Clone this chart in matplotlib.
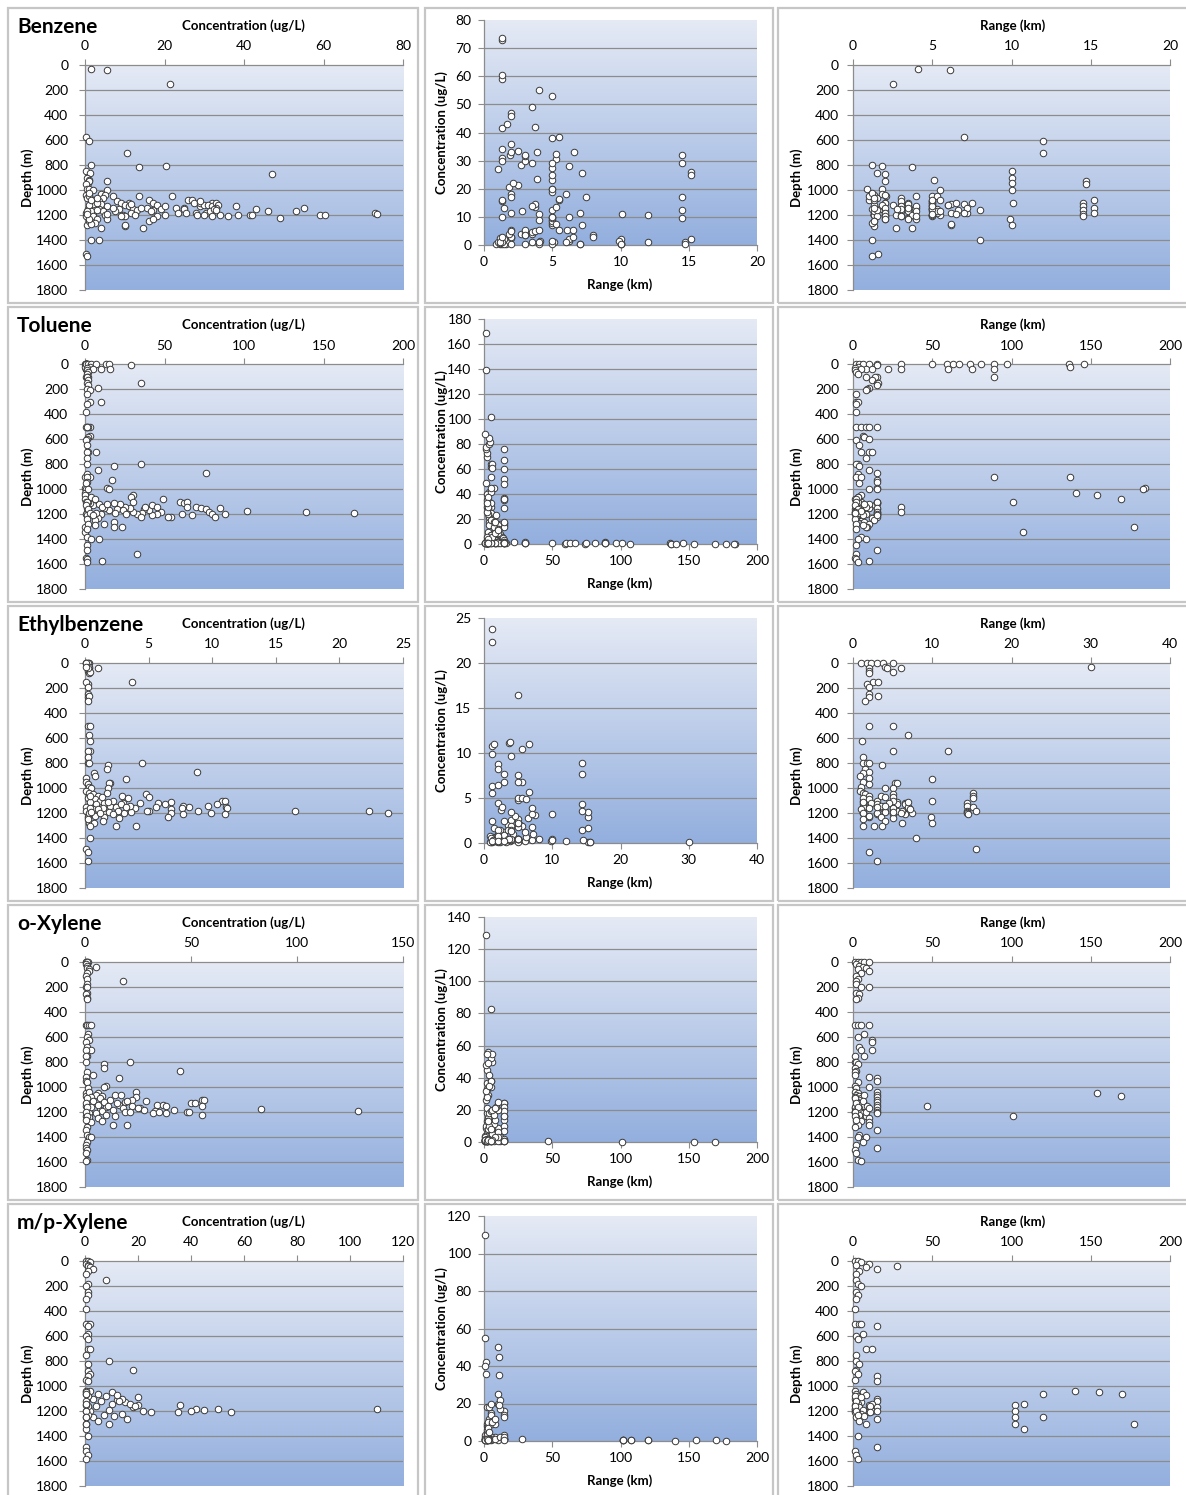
import numpy as np
import matplotlib
matplotlib.use('Agg')
import matplotlib.pyplot as plt
from matplotlib.colors import LinearSegmentedColormap
from matplotlib.patches import Rectangle

plt.rcParams['font.family'] = ['Lato', 'DejaVu Sans']

# ---- data: one sample = (depth, concentration, range), same index in each list ----
benzene_depth = [
    35, 40, 150, 575, 610, 700, 800, 805, 815, 850,
    860, 870, 900, 930, 940, 920, 930, 950, 990, 990,
    1000, 1000, 1100, 1230, 1280, 1400, 1400, 1510, 1530, 1300,
    1290, 1300, 1280, 1100, 1130, 1160, 1190, 1210, 1080, 1140,
    1180, 1200, 1200, 1150, 1170, 1220, 1170, 1140, 1200, 1200,
    1180, 1190, 1130, 1200, 1050, 1140, 1180, 1150, 1180, 1080,
    1100, 1180, 1100, 1200, 1120, 1180, 1120, 1200, 1130, 1170,
    1210, 1100, 1120, 1200, 1210, 1140, 1150, 1160, 1090, 1200,
    1040, 1050, 1060, 1080, 1100, 1120, 1140, 1150, 1170, 1200,
    1210, 1230, 1250, 1260, 1030, 1040, 1060, 1090, 1110, 1130,
    1150, 1170, 1200, 1230, 1050, 1090, 1100, 1120, 1150, 1170,
    1200, 1210, 1130, 1150, 1160, 1180, 1200, 1050, 1080, 1100,
    1120, 1140, 1150, 1170, 1130, 1210, 1250, 1230, 1270, 1110,
    1140, 1160, 1180, 1110, 1190, 1100, 1120, 1170, 1050, 1210,
    1230, 1190, 1080, 1140, 1210, 1020, 1060]
benzene_conc = [
    1.5, 5.5, 21.5, 0.2, 1.0, 10.5, 1.5, 20.5, 13.5, 0.3,
    1.2, 47, 0.5, 5.5, 0.8, 1.0, 1.0, 0.3, 0.5, 1.0,
    2.0, 5.5, 11, 1.5, 0.5, 1.5, 3.5, 0.3, 0.4, 4.0,
    10, 14.5, 10, 32, 29, 17, 12.5, 9.5, 26, 25,
    2, 41.5, 42, 43, 46, 49, 53, 55, 59, 60.5,
    73, 73.5, 38, 38.5, 22, 23, 23.5, 25, 25.5, 27,
    27.5, 28, 29, 28.3, 30, 30.5, 31, 30, 32, 31.5,
    32, 33, 33.5, 34, 36, 33, 32.5, 33, 29, 20,
    0.3, 1.0, 0.5, 2.0, 3.0, 1.5, 2.5, 0.8, 1.5, 0.5,
    2.0, 3.0, 1.0, 2.5, 4.0, 5.0, 4.5, 3.5, 4.0, 5.5,
    3.5, 4.5, 5.0, 5.5, 7.0, 8.0, 9.0, 10, 8.5, 7.5,
    9.5, 10, 11, 12, 13, 11.5, 12.5, 13.5, 16, 17,
    18, 15.5, 19, 16.5, 20, 18, 16, 17, 1.5, 11.5,
    7.0, 3.0, 0.2, 2.0, 5.5, 3.0, 1.0, 0.5, 1.0, 0.3,
    1.0, 0.5, 1.5, 14, 9.0, 1.0, 3.0]
benzene_range = [
    4.1, 6.1, 2.5, 7.0, 12, 12, 1.2, 1.8, 3.7, 10,
    1.5, 2.0, 10, 2.0, 10, 5.1, 14.7, 14.7, 0.9, 1.8,
    10, 5.5, 10.1, 9.9, 10, 1.2, 8.0, 1.6, 1.2, 2.7,
    1.3, 3.7, 6.2, 14.5, 14.5, 14.5, 14.5, 14.5, 15.2, 15.2,
    15.2, 1.3, 3.7, 1.7, 2.0, 3.5, 5.0, 4.0, 1.3, 1.3,
    1.3, 1.3, 5.0, 5.5, 2.1, 5.0, 3.9, 5.0, 7.2, 1.0,
    5.0, 6.2, 3.5, 2.7, 3.0, 5.3, 1.3, 1.3, 1.9, 3.0,
    3.0, 2.0, 2.5, 1.3, 2.0, 3.9, 5.3, 6.6, 5.0, 5.0,
    1.3, 1.0, 1.5, 1.3, 2.0, 1.8, 2.0, 1.2, 1.3, 2.0,
    1.5, 2.0, 1.3, 1.2, 1.8, 2.0, 3.0, 3.0, 3.5, 3.0,
    3.0, 3.5, 3.7, 4.0, 5.0, 5.0, 5.0, 5.0, 5.0, 5.3,
    5.0, 5.0, 4.0, 2.8, 1.5, 2.0, 5.0, 5.3, 5.5, 7.5,
    6.0, 1.3, 5.0, 5.5, 5.0, 2.0, 1.3, 2.0, 6.2, 7.0,
    7.2, 8.0, 7.0, 6.2, 6.5, 6.5, 6.0, 4.0, 4.0, 3.0,
    3.5, 5.0, 5.0, 3.5, 4.0, 1.2, 1.3]

toluene_depth = [
    0, 40, 40, 0, 0, 40, 0, 0, 0, 40,
    0, 0, 40, 100, 0, 0, 20, 0, 900, 900,
    990, 1000, 1030, 1050, 1080, 1100, 1300, 1340, 1140, 1180,
    0, 0, 0, 0, 0, 10, 20, 30, 40, 40,
    40, 50, 60, 80, 100, 100, 100, 130, 150, 150,
    170, 190, 200, 210, 240, 300, 300, 320, 380, 500,
    500, 500, 500, 500, 575, 580, 600, 610, 650, 700,
    700, 700, 750, 800, 800, 815, 850, 870, 880, 900,
    900, 930, 940, 950, 990, 1000, 1000, 1050, 1060, 1080,
    1100, 1110, 1100, 1140, 1140, 1150, 1160, 1180, 1200, 1220,
    1150, 1200, 1210, 1200, 1220, 1220, 1180, 1200, 1210, 1170,
    1130, 1140, 1160, 1190, 1200, 1180, 1150, 1140, 1120, 1160,
    1110, 1170, 1150, 1200, 1230, 1250, 1130, 1110, 1100, 1150,
    1180, 1200, 1210, 1120, 1140, 1170, 1190, 1200, 1220, 1140,
    1100, 1120, 1190, 1060, 1080, 1100, 1130, 1160, 1190, 1210,
    1240, 1260, 1280, 1300, 1300, 1280, 1290, 1175, 1180, 1195,
    1320, 1380, 1400, 1400, 1450, 1490, 1520, 1550, 1560, 1575,
    1580]
toluene_conc = [
    1.0, 0.5, 1.5, 0.5, 0.3, 0.5, 0.8, 0.5, 0.4, 0.6,
    0.5, 1.5, 0.5, 0.8, 1.0, 0.5, 0.3, 0.5, 0.5, 0.3,
    0.2, 0.4, 0.3, 0.3, 0.3, 0.5, 0.2, 0.3, 2.0, 1.0,
    2, 4, 7, 13, 15, 29, 3, 1, 10, 16,
    5, 1, 2, 1, 1, 2, 1.5, 2, 35, 1,
    2, 8, 1, 3, 1, 3, 10, 1, 0.5, 1,
    3, 0.5, 2, 1.5, 3, 2, 1, 0.5, 1, 7,
    2, 1, 1, 35, 1, 18, 8, 76, 1, 3,
    1, 17, 1, 0.5, 14, 15, 2, 30, 29, 49,
    60, 62, 64, 64, 70, 73, 76, 78, 80, 82,
    85, 88, 67, 61, 54, 52, 48, 45, 42, 40,
    42, 45, 37, 36, 33, 30, 28, 25, 22, 20,
    18, 15, 12, 10, 8, 6, 5, 3, 2, 1,
    2, 0.5, 1, 9, 11, 24, 19, 26, 35, 38,
    30, 14, 7, 4, 6, 1, 0.5, 2, 3, 5,
    1, 18, 12, 23, 18, 2, 6, 102, 139, 169,
    1, 1, 9, 4, 1, 1, 33, 0.5, 1, 11,
    1]
toluene_range = [
    30, 30, 22, 50, 59, 60, 63, 67, 74, 75,
    81, 89, 89, 89, 97, 136, 137, 146, 89, 137,
    184, 183, 141, 154, 169, 101, 177, 107, 30, 30,
    2, 4, 6, 10, 15, 15, 3, 1, 8, 12,
    5, 1.5, 2, 3, 8, 15, 14, 12, 15, 16,
    15, 10, 9, 8, 2, 2, 3, 2, 2, 2,
    5, 8, 10, 15, 6, 7, 10, 2, 4, 5,
    10, 12, 8, 3, 2, 4, 10, 15, 3, 2,
    5, 15, 15, 4, 15, 10, 15, 5, 3, 1.5,
    15, 5, 5, 6, 2, 2, 1.5, 1.5, 4, 4.5,
    4, 1, 15, 6, 5, 15, 15, 7, 4, 2,
    5, 5, 15, 15, 5, 2, 3, 5, 4, 6,
    15, 4, 10, 8, 12, 13, 14, 15, 15, 15,
    15, 15, 15, 10, 8, 3, 5, 2, 2, 3,
    3, 7, 5, 3, 2, 2, 1, 3, 4, 6,
    1, 7, 10, 9, 8, 2, 6, 5, 1.5, 1.5,
    2, 5, 8, 3, 2, 15, 2, 1, 2, 10,
    3]

ethyl_depth = [
    0, 0, 0, 0, 0, 0, 40, 60, 80, 30,
    40, 70, 40, 30, 150, 170, 150, 190, 250, 270,
    260, 300, 500, 500, 575, 620, 700, 700, 750, 800,
    800, 800, 815, 850, 870, 880, 900, 920, 930, 950,
    960, 960, 970, 990, 1000, 1000, 1040, 1050, 1060, 1070,
    1080, 1100, 1100, 1110, 1120, 1130, 1140, 1150, 1130, 1150,
    1160, 1120, 1140, 1160, 1170, 1180, 1180, 1185, 1200, 1180,
    1200, 1210, 1200, 1210, 1230, 1180, 1150, 1160, 1190, 1200,
    1200, 1150, 1180, 1210, 1100, 1230, 1280, 1020, 1040, 1050,
    1060, 1080, 1090, 1100, 1110, 1120, 1130, 1140, 1150, 1160,
    1170, 1180, 1190, 1200, 1210, 1220, 1230, 1240, 1250, 1260,
    1280, 1100, 1120, 1140, 1130, 1150, 1170, 1160, 1190, 1200,
    1110, 1060, 1070, 1300, 1300, 1300, 1400, 1490, 1510, 1580]
ethyl_conc = [
    0.1, 0.2, 0.1, 0.3, 0.2, 0.1, 0.3, 0.2, 0.3, 0.3,
    1.0, 0.4, 0.2, 0.1, 3.7, 0.2, 0.1, 0.2, 0.2, 0.2,
    0.3, 0.2, 0.2, 0.4, 0.3, 0.4, 0.4, 0.2, 0.2, 0.2,
    0.3, 4.5, 1.8, 1.7, 8.8, 0.7, 0.8, 0.1, 3.2, 0.1,
    2.0, 1.9, 0.2, 0.3, 1.8, 0.5, 1.7, 4.8, 2.9, 5.0,
    3.4, 10.8, 11.0, 6.8, 5.7, 10.4, 9.7, 8.2, 6.3, 11.1,
    11.2, 4.3, 7.7, 7.6, 6.8, 8.9, 16.5, 22.3, 23.8, 5.0,
    9.9, 7.7, 6.8, 11.0, 6.5, 4.9, 5.6, 3.9, 3.6, 3.1,
    1.5, 0.1, 0.1, 0.3, 0.5, 0.2, 0.3, 0.1, 0.3, 0.6,
    1.0, 0.2, 0.8, 1.2, 0.4, 1.5, 0.9, 2.0, 2.4, 1.4,
    0.6, 2.6, 1.9, 0.3, 2.2, 0.8, 1.5, 2.7, 0.2, 1.4,
    0.7, 2.2, 3.0, 3.5, 2.8, 3.2, 1.0, 0.4, 0.5, 1.2,
    1.8, 0.4, 1.3, 2.4, 4.0, 0.4, 0.4, 0.1, 0.2, 0.2]
ethyl_range = [
    1.0, 1.8, 2.3, 3.0, 3.8, 5.0, 2.0, 2.0, 2.0, 4.0,
    4.3, 5.0, 6.0, 30.0, 2.5, 1.8, 3.2, 2.0, 2.0, 2.0,
    3.2, 1.5, 2.0, 5.0, 7.0, 1.1, 5.0, 12.0, 1.2, 1.2,
    1.8, 2.0, 3.6, 1.5, 2.0, 1.3, 0.9, 2.0, 10.0, 1.2,
    5.3, 5.5, 2.0, 1.0, 5.0, 4.0, 15.2, 5.0, 15.2, 5.0,
    15.2, 1.2, 1.4, 5.6, 6.6, 5.6, 3.9, 2.0, 1.2, 3.6,
    3.8, 14.4, 14.4, 5.0, 5.0, 14.4, 5.0, 1.2, 1.2, 5.6,
    1.2, 3.0, 3.0, 6.6, 2.0, 6.2, 1.2, 7.1, 14.4, 7.5,
    14.4, 15.2, 15.5, 14.5, 10.0, 9.8, 10.0, 0.9, 1.2, 1.5,
    2.0, 1.2, 2.0, 3.0, 1.2, 2.3, 3.0, 3.5, 3.0, 2.0,
    1.0, 4.0, 4.0, 1.3, 5.0, 2.0, 3.5, 5.0, 1.2, 4.0,
    6.2, 5.0, 4.5, 4.0, 6.5, 7.0, 7.2, 5.0, 5.0, 6.0,
    7.0, 3.5, 4.0, 1.2, 2.7, 3.7, 8.0, 15.5, 2.0, 3.0]

oxyl_depth = [
    0, 0, 0, 0, 0, 20, 30, 40, 50, 60,
    70, 90, 110, 140, 150, 180, 200, 200, 250, 260,
    290, 300, 500, 500, 500, 500, 575, 600, 620, 640,
    680, 700, 700, 750, 750, 800, 800, 815, 850, 870,
    880, 900, 920, 930, 950, 960, 990, 1000, 1010, 1040,
    1060, 1080, 1100, 1100, 1130, 1130, 1140, 1110, 1140, 1150,
    1150, 1170, 1180, 1180, 1190, 1200, 1200, 1210, 1210, 1220,
    1200, 1175, 1195, 1100, 1120, 1140, 1160, 1180, 1200, 1210,
    1150, 1050, 1075, 1230, 1040, 1050, 1060, 1070, 1080, 1090,
    1100, 1110, 1120, 1130, 1140, 1150, 1160, 1170, 1180, 1190,
    1200, 1210, 1220, 1230, 1240, 1250, 1270, 1280, 1300, 1300,
    1090, 1130, 1160, 1200, 1060, 1110, 1150, 1200, 1170, 1230,
    1260, 1320, 1340, 1380, 1400, 1400, 1440, 1460, 1490, 1500,
    1530, 1580, 1590]
oxyl_conc = [
    0.5, 1, 0.5, 1.5, 1, 0.5, 1, 5, 1, 2,
    2, 1, 0.5, 1, 18, 1, 0.5, 1, 1, 0.5,
    1, 1, 0.5, 1, 2, 3, 1.5, 1, 2, 0.5,
    1, 3, 0.5, 1, 0.5, 0.5, 21, 9, 9, 45,
    1, 4, 0.5, 16, 0.5, 1, 10, 9, 1.5, 24,
    14, 24, 55, 56, 50, 52, 34, 29, 37, 38,
    55, 26, 28, 42, 33, 48, 49, 38, 32, 55,
    35, 83, 129, 22, 19, 16, 10, 7, 1, 2,
    0.5, 0.3, 0.3, 0.3, 2, 6, 5, 8, 3, 7,
    12, 4, 9, 15, 6, 11, 3, 18, 13, 8,
    19, 5, 10, 14, 2, 6, 8, 3, 13, 20,
    1, 0.5, 1, 0.5, 17, 20, 22, 21, 25, 1,
    0.5, 1, 0.5, 1, 2, 3, 1, 0.5, 0.5, 1,
    0.5, 1, 0.5]
oxyl_range = [
    1, 3, 5, 7, 10, 2, 4, 6, 8, 3,
    10, 5, 2, 3, 2, 2, 5, 10, 2, 4,
    3, 2, 1, 3, 5, 10, 7, 3, 12, 12,
    4, 12, 5, 1, 7, 1, 2, 3, 1.5, 2,
    1, 1, 10, 15, 15, 3, 1.5, 10, 2, 15,
    15, 15, 4, 3, 6, 5, 5, 3, 2, 5,
    6, 1.5, 2, 4, 2, 1.5, 3, 5, 1.5, 2,
    4, 5, 1.3, 15, 15, 15, 15, 15, 15, 15,
    47, 154, 169, 101, 1, 3, 2, 4, 1.5, 5,
    4, 2, 6, 3, 5, 7, 1, 4, 2, 3,
    5, 6, 4, 8, 2, 10, 5, 10, 3, 10,
    1, 2, 3, 1, 7, 6, 9, 8, 10, 1,
    2, 1, 15, 4, 3, 8, 6, 2, 15, 1,
    2, 3, 5]

mpxyl_depth = [
    0, 0, 10, 20, 30, 40, 50, 60, 80, 100,
    150, 180, 200, 250, 270, 300, 380, 500, 500, 500,
    520, 580, 600, 620, 700, 700, 750, 800, 820, 870,
    880, 900, 920, 950, 960, 1040, 1060, 1080, 1100, 1110,
    1120, 1130, 1140, 1150, 1150, 1160, 1170, 1180, 1180, 1190,
    1200, 1210, 1180, 1190, 1200, 1210, 1220, 1230, 1240, 1250,
    1260, 1280, 1300, 1100, 1120, 1140, 1160, 1170, 1200, 1210,
    1080, 1120, 1160, 1200, 1230, 1050, 1070, 1090, 1150, 1200,
    1250, 1300, 1140, 1340, 1060, 1250, 1040, 1050, 1060, 1300,
    1400, 1490, 1520, 1550, 1580]
mpxyl_conc = [
    0.5, 1, 2, 0.5, 1, 1, 2, 3, 1, 0.5,
    8, 1, 0.5, 1, 1, 0.5, 0.5, 1, 0.5, 2,
    1, 1, 0.5, 1, 1, 2, 0.5, 9, 1, 18,
    1, 2, 1, 0.5, 1, 2, 5, 8, 3, 12,
    6, 15, 10, 36, 20, 4, 18, 42, 50, 45,
    40, 55, 110, 9, 22, 25, 14, 7, 11, 3,
    16, 5, 9, 14, 13, 17, 19, 1, 2, 35,
    1, 0.5, 1, 0.5, 1, 10, 12, 20, 0.3, 0.3,
    0.4, 0.3, 0.5, 0.3, 0.3, 0.4, 0.2, 0.3, 0.3, 0.2,
    1, 0.5, 0.5, 1, 0.5]
mpxyl_range = [
    1, 3, 5, 10, 2, 28, 8, 15, 4, 2,
    2, 3, 5, 2, 3, 2, 1, 1, 4, 5,
    15, 6, 2, 3, 8, 12, 2, 2, 4, 2,
    1, 3, 15, 1, 15, 1, 2, 3, 1, 4,
    2, 5, 3, 1.5, 10, 2, 4, 1.5, 10, 11,
    1, 1, 1, 6, 12, 10, 5, 3, 7, 2,
    15, 4, 8, 15, 15, 12, 11, 15, 15, 11,
    1, 2, 1, 2, 3, 6, 8, 5, 102, 102,
    102, 102, 108, 108, 120, 120, 140, 155, 170, 177,
    3, 15, 1, 2, 3]

compounds = ['Benzene', 'Toluene', 'Ethylbenzene', 'o-Xylene', 'm/p-Xylene']
depth_data = [benzene_depth, toluene_depth, ethyl_depth, oxyl_depth, mpxyl_depth]
conc_data = [benzene_conc, toluene_conc, ethyl_conc, oxyl_conc, mpxyl_conc]
range_data = [benzene_range, toluene_range, ethyl_range, oxyl_range, mpxyl_range]

# axis scales as drawn in each row
conc_max = [80, 200, 25, 150, 120]
conc_step = [20, 50, 5, 50, 20]
mid_conc_max = [80, 180, 25, 140, 120]
mid_conc_step = [10, 20, 5, 20, 20]
range_max = [20, 200, 40, 200, 200]
range_step = [5, 50, 10, 50, 50]
depth_max, depth_step = 1800, 200

W, H = 1186, 1495
ROW = 299
GRID = '#8c8c8c'
bg = LinearSegmentedColormap.from_list('bg', ['#e5eaf5', '#93afde'])

fig = plt.figure(figsize=(W / 100, H / 100), dpi=100)


def px_axes(l, t, r, b):
    return fig.add_axes([l / W, 1 - b / H, (r - l) / W, (b - t) / H])


def frame(l, t, r, b):
    fig.patches.append(Rectangle((l / W, 1 - b / H), (r - l) / W, (b - t) / H,
                                 transform=fig.transFigure, fill=False,
                                 edgecolor='#c6c6c6', lw=1.6))


def setup(ax, xmax, xstep, ymax, ystep, depth):
    grad = np.linspace(0, 1, 256)[:, None]
    ax.imshow(grad, cmap=bg, aspect='auto', extent=(0, 1, 0, 1),
              transform=ax.transAxes, zorder=0)
    ax.set_xlim(0, xmax)
    ax.set_ylim((ymax, 0) if depth else (0, ymax))
    ax.set_xticks(np.arange(0, xmax + 1, xstep))
    yt = np.arange(0, ymax + 1, ystep)
    ax.set_yticks(yt)
    for t in yt[1:-1]:
        ax.axhline(t, color=GRID, lw=0.9, zorder=1)
    for s in ax.spines.values():
        s.set_color(GRID)
        s.set_linewidth(0.9)
    ax.spines['right'].set_visible(False)
    if depth:
        ax.xaxis.tick_top()
        ax.spines['bottom'].set_visible(False)
    else:
        ax.spines['top'].set_visible(False)
    ax.tick_params(labelsize=10, length=4, width=0.8, color=GRID)


def dots(ax, x, y):
    ax.scatter(x, y, s=22, facecolor='white', edgecolor='#3a3a3a',
               linewidths=0.7, zorder=3, clip_on=False)


for r, name in enumerate(compounds):
    dy = ROW * r
    d = np.array(depth_data[r])
    c = np.array(conc_data[r])
    g = np.array(range_data[r])

    frame(8, 8 + dy, 418, 303 + dy)
    frame(425, 8 + dy, 773, 303 + dy)
    frame(778, 8 + dy, 1192, 303 + dy)

    # concentration vs depth
    ax1 = px_axes(85, 65 + dy, 403, 290 + dy)
    setup(ax1, conc_max[r], conc_step[r], depth_max, depth_step, True)
    ax1.tick_params(axis='x', pad=5)
    ax1.tick_params(axis='y', pad=8)
    dots(ax1, c, d)
    ax1.xaxis.set_label_position('top')
    ax1.set_xlabel('Concentration (ug/L)', fontsize=9.5, fontweight='bold', va='center')
    ax1.xaxis.set_label_coords(0.497, 1 + 39 / 225)
    ax1.set_ylabel('Depth (m)', fontsize=9.5, fontweight='bold', va='center')
    ax1.yaxis.set_label_coords(-57 / 318, 0.5)
    fig.text(17 / W, 1 - (27 + dy) / H, name, fontsize=15, fontweight='bold',
             ha='left', va='center')

    # range vs concentration
    ax2 = px_axes(484, 20 + dy, 757, 245 + dy)
    setup(ax2, range_max[r] if r != 0 else 20, range_step[r], mid_conc_max[r],
          mid_conc_step[r], False)
    ax2.tick_params(axis='x', pad=4)
    ax2.tick_params(axis='y', pad=5)
    dots(ax2, g, c)
    ax2.set_xlabel('Range (km)', fontsize=9.5, fontweight='bold', va='center')
    ax2.xaxis.set_label_coords(0.498, -40 / 225)
    ax2.set_ylabel('Concentration (ug/L)', fontsize=9.5, fontweight='bold', va='center')
    ax2.yaxis.set_label_coords(-42 / 273, 0.5)

    # range vs depth
    ax3 = px_axes(853, 65 + dy, 1170, 290 + dy)
    setup(ax3, range_max[r], range_step[r], depth_max, depth_step, True)
    ax3.tick_params(axis='x', pad=5)
    ax3.tick_params(axis='y', pad=6)
    dots(ax3, g, d)
    ax3.xaxis.set_label_position('top')
    ax3.set_xlabel('Range (km)', fontsize=9.5, fontweight='bold', va='center')
    ax3.xaxis.set_label_coords(0.502, 1 + 39 / 225)
    ax3.set_ylabel('Depth (m)', fontsize=9.5, fontweight='bold', va='center')
    ax3.yaxis.set_label_coords(-56 / 317, 0.5)

fig.savefig('out.png', dpi=100, facecolor='white')
